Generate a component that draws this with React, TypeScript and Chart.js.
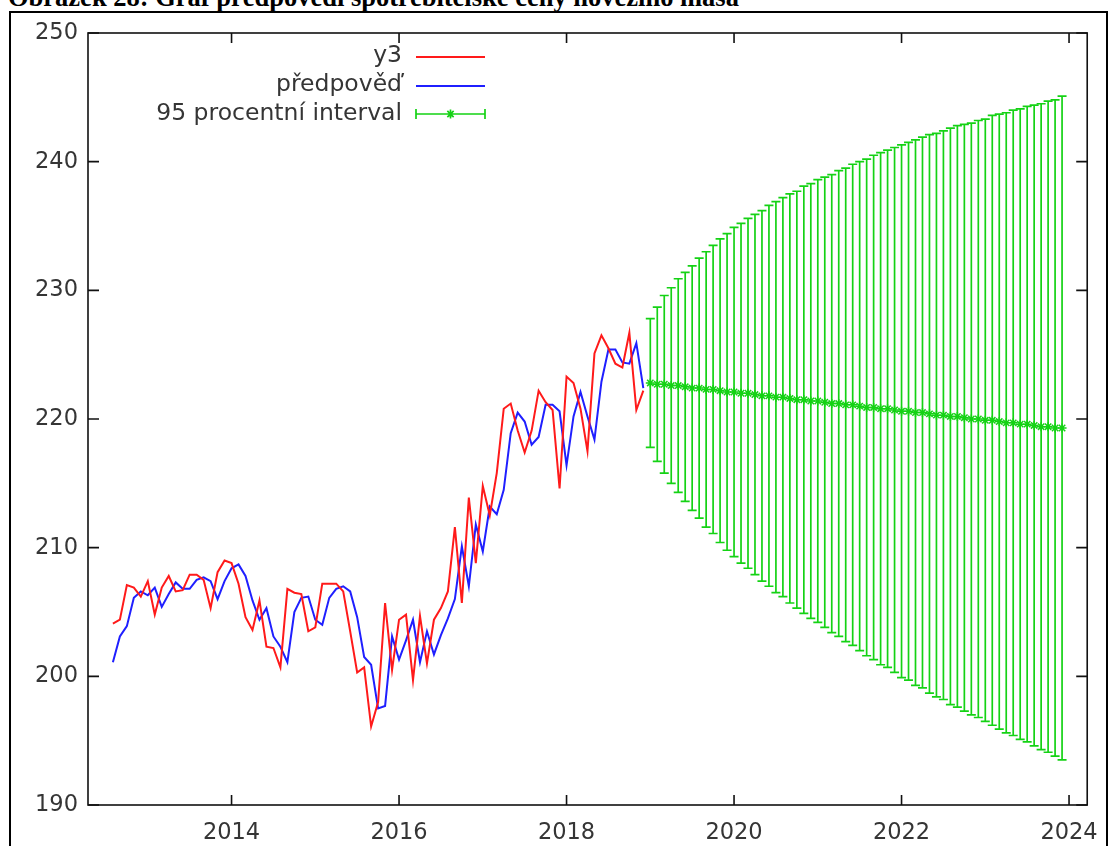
import React, { useEffect, useRef } from 'react';
import { Chart, registerables } from 'chart.js';

Chart.register(...registerables);

const TITLE = 'Obrázek 28: Graf předpovědi spotřebitelské ceny hovězího masa';
const LEGEND_LABELS = ['y3', 'předpověď', '95 procentní interval'];

// monthly observations start in August 2012, forecast starts January 2019
const START_YEAR = 2012;
const START_MONTH = 8;
const FORECAST_YEAR = 2019;
const FORECAST_MONTH = 1;

const Y3 = [
  204.1, 204.4, 207.1, 206.9, 206.2, 207.4, 204.8, 206.9, 207.8, 206.6,
  206.7, 207.9, 207.9, 207.5, 205.3, 208.1, 209.0, 208.8, 207.2, 204.6,
  203.6, 205.9, 202.3, 202.2, 200.7, 206.8, 206.5, 206.4, 203.5, 203.8,
  207.2, 207.2, 207.2, 206.6, 203.5, 200.3, 200.7, 196.1, 198.0, 205.7,
  200.5, 204.4, 204.8, 199.7, 204.7, 201.0, 204.4, 205.3, 206.6, 211.6,
  205.7, 213.9, 208.8, 214.8, 212.5, 215.8, 220.8, 221.2, 219.1, 217.4,
  219.1, 222.2, 221.3, 220.7, 214.6, 223.3, 222.8, 220.8, 217.5, 225.1,
  226.5, 225.5, 224.3, 224.0, 226.7, 220.7, 222.2,
];

const FITTED = [
  201.1, 203.1, 203.9, 206.1, 206.6, 206.3, 206.9, 205.4, 206.4, 207.3,
  206.8, 206.8, 207.5, 207.7, 207.4, 206.0, 207.4, 208.4, 208.7, 207.8,
  205.9, 204.4, 205.3, 203.1, 202.3, 201.1, 205.0, 206.1, 206.2, 204.4,
  204.0, 206.1, 206.8, 207.0, 206.6, 204.6, 201.5, 200.9, 197.5, 197.7,
  203.1, 201.3, 202.8, 204.4, 201.1, 203.5, 201.7, 203.2, 204.5, 206.0,
  210.1, 207.0, 211.8, 209.7, 213.2, 212.6, 214.5, 218.9, 220.5, 219.8,
  218.0, 218.6, 221.1, 221.1, 220.6, 216.4, 220.2, 222.1, 220.2, 218.4,
  222.9, 225.4, 225.4, 224.4, 224.3, 225.9, 222.4,
];

const FORECAST = [
  222.8, 222.7, 222.7, 222.6, 222.6, 222.5, 222.4, 222.4, 222.3, 222.3,
  222.2, 222.1, 222.1, 222.0, 222.0, 221.9, 221.8, 221.8, 221.7, 221.7,
  221.6, 221.5, 221.5, 221.4, 221.4, 221.3, 221.2, 221.2, 221.1, 221.1,
  221.0, 220.9, 220.9, 220.8, 220.8, 220.7, 220.6, 220.6, 220.5, 220.5,
  220.4, 220.3, 220.3, 220.2, 220.2, 220.1, 220.0, 220.0, 219.9, 219.9,
  219.8, 219.7, 219.7, 219.6, 219.6, 219.5, 219.4, 219.4, 219.3, 219.3,
];

// half-width of the 95 % interval
const MARGIN = [
  5.0, 6.0, 6.9, 7.6, 8.3, 8.9, 9.5, 10.1, 10.7, 11.2,
  11.8, 12.3, 12.8, 13.2, 13.6, 14.0, 14.4, 14.8, 15.2, 15.5,
  15.9, 16.2, 16.6, 16.9, 17.2, 17.5, 17.8, 18.1, 18.4, 18.7,
  19.0, 19.3, 19.6, 19.9, 20.1, 20.4, 20.7, 20.9, 21.2, 21.4,
  21.7, 21.9, 22.1, 22.4, 22.6, 22.8, 23.0, 23.2, 23.4, 23.7,
  23.9, 24.1, 24.3, 24.5, 24.7, 24.9, 25.1, 25.3, 25.5, 25.8,
];

const YEAR_TICKS = [2014, 2016, 2018, 2020, 2022, 2024];
const Y_TICKS = [190, 200, 210, 220, 230, 240, 250];
const X_MIN = 2012.286;
const X_MAX = 2024.217;

const RED = '#ff1a1a';
const BLUE = '#1f1fff';
const GREEN = '#14d214';
const TEXT = '#353535';
const FONT_FAMILY = '"DejaVu Sans", Verdana, sans-serif';
const TICK_FONT_SIZE = 22.5;
const LEGEND_FONT_SIZE = 23.5;

const monthTime = (y0: number, m0: number, i: number) => y0 + (m0 - 1 + i) / 12;

const frameAxes = {
  id: 'frameAxes',
  beforeDatasetsDraw(chart: any) {
    const { ctx, chartArea: a, scales } = chart;
    const x = scales.x;
    const y = scales.y;
    ctx.save();
    ctx.strokeStyle = '#111';
    ctx.lineWidth = 1.6;
    ctx.strokeRect(a.left, a.top, a.right - a.left, a.bottom - a.top);
    ctx.beginPath();
    for (const t of x.ticks) {
      const px = x.getPixelForValue(t.value);
      ctx.moveTo(px, a.bottom);
      ctx.lineTo(px, a.bottom - 10);
      ctx.moveTo(px, a.top);
      ctx.lineTo(px, a.top + 10);
    }
    for (const t of y.ticks) {
      const py = y.getPixelForValue(t.value);
      ctx.moveTo(a.left, py);
      ctx.lineTo(a.left + 11, py);
      ctx.moveTo(a.right, py);
      ctx.lineTo(a.right - 11, py);
    }
    ctx.stroke();
    ctx.restore();
  },
  afterDatasetsDraw(chart: any) {
    const { ctx, chartArea: a } = chart;
    const textRight = a.left + 314;
    const s0 = a.left + 328;
    const s1 = a.left + 397;
    const rows = [a.top + 23, a.top + 52, a.top + 81];
    ctx.save();
    ctx.font = `${LEGEND_FONT_SIZE}px ${FONT_FAMILY}`;
    ctx.fillStyle = TEXT;
    ctx.textAlign = 'right';
    ctx.textBaseline = 'middle';
    LEGEND_LABELS.forEach((label, i) => ctx.fillText(label, textRight, rows[i]));
    ctx.lineWidth = 2;
    ctx.strokeStyle = RED;
    ctx.beginPath();
    ctx.moveTo(s0, rows[0] + 1);
    ctx.lineTo(s1, rows[0] + 1);
    ctx.stroke();
    ctx.strokeStyle = BLUE;
    ctx.beginPath();
    ctx.moveTo(s0, rows[1] + 1);
    ctx.lineTo(s1, rows[1] + 1);
    ctx.stroke();
    ctx.strokeStyle = GREEN;
    ctx.lineWidth = 1.7;
    const gy = rows[2];
    ctx.beginPath();
    ctx.moveTo(s0, gy);
    ctx.lineTo(s1, gy);
    ctx.moveTo(s0, gy - 5);
    ctx.lineTo(s0, gy + 5);
    ctx.moveTo(s1, gy - 5);
    ctx.lineTo(s1, gy + 5);
    const cx = (s0 + s1) / 2;
    const r = 4.5;
    ctx.moveTo(cx - r, gy);
    ctx.lineTo(cx + r, gy);
    ctx.moveTo(cx, gy - r);
    ctx.lineTo(cx, gy + r);
    ctx.moveTo(cx - r * 0.7, gy - r * 0.7);
    ctx.lineTo(cx + r * 0.7, gy + r * 0.7);
    ctx.moveTo(cx - r * 0.7, gy + r * 0.7);
    ctx.lineTo(cx + r * 0.7, gy - r * 0.7);
    ctx.stroke();
    ctx.restore();
  },
};

export default function App() {
  const canvasRef = useRef<HTMLCanvasElement | null>(null);

  useEffect(() => {
    const canvas = canvasRef.current;
    if (!canvas) return;

    const y3Points = Y3.map((v, i) => ({ x: monthTime(START_YEAR, START_MONTH, i), y: v }));
    const fittedPoints = FITTED.map((v, i) => ({ x: monthTime(START_YEAR, START_MONTH, i), y: v }));
    const centre = FORECAST.map((v, i) => ({ x: monthTime(FORECAST_YEAR, FORECAST_MONTH, i), y: v }));
    const upper = FORECAST.map((v, i) => ({ x: monthTime(FORECAST_YEAR, FORECAST_MONTH, i), y: v + MARGIN[i] }));
    const lower = FORECAST.map((v, i) => ({ x: monthTime(FORECAST_YEAR, FORECAST_MONTH, i), y: v - MARGIN[i] }));
    const bars: any[] = [];
    FORECAST.forEach((v, i) => {
      const x = monthTime(FORECAST_YEAR, FORECAST_MONTH, i);
      bars.push({ x, y: v - MARGIN[i] }, { x, y: v + MARGIN[i] }, { x, y: null });
    });

    const chart = new Chart(canvas, {
      type: 'line',
      data: {
        datasets: [
          {
            label: LEGEND_LABELS[0],
            data: y3Points,
            borderColor: RED,
            borderWidth: 2,
            pointRadius: 0,
            tension: 0,
          },
          {
            label: LEGEND_LABELS[1],
            data: fittedPoints,
            borderColor: BLUE,
            borderWidth: 2,
            pointRadius: 0,
            tension: 0,
          },
          {
            label: LEGEND_LABELS[2],
            data: centre,
            showLine: false,
            pointStyle: 'star',
            pointRadius: 4.5,
            pointBorderWidth: 1.5,
            borderColor: GREEN,
            backgroundColor: GREEN,
          },
          {
            label: 'upper',
            data: upper,
            showLine: false,
            pointStyle: 'line',
            pointRadius: 4.5,
            pointBorderWidth: 1.7,
            borderColor: GREEN,
          },
          {
            label: 'lower',
            data: lower,
            showLine: false,
            pointStyle: 'line',
            pointRadius: 4.5,
            pointBorderWidth: 1.7,
            borderColor: GREEN,
          },
          {
            label: 'bars',
            data: bars,
            borderColor: GREEN,
            borderWidth: 1.7,
            pointRadius: 0,
            spanGaps: false,
          },
        ],
      },
      options: {
        animation: false,
        responsive: false,
        devicePixelRatio: 1,
        events: [],
        layout: { padding: { left: 8, top: 33, right: 18, bottom: 0 } },
        plugins: {
          legend: { display: false },
          tooltip: { enabled: false },
          title: { display: false },
        },
        scales: {
          x: {
            type: 'linear',
            min: X_MIN,
            max: X_MAX,
            grid: { display: false, drawTicks: false },
            border: { display: false },
            afterBuildTicks: (scale: any) => {
              scale.ticks = YEAR_TICKS.map((v) => ({ value: v }));
            },
            afterFit: (scale: any) => {
              scale.height = 41;
            },
            ticks: {
              autoSkip: false,
              maxRotation: 0,
              padding: 15,
              color: TEXT,
              font: { family: FONT_FAMILY, size: TICK_FONT_SIZE },
              callback: (v: any) => String(v),
            },
          },
          y: {
            type: 'linear',
            min: 190,
            max: 250,
            grid: { display: false, drawTicks: false },
            border: { display: false },
            afterBuildTicks: (scale: any) => {
              scale.ticks = Y_TICKS.map((v) => ({ value: v }));
            },
            afterFit: (scale: any) => {
              scale.width = 80;
            },
            ticks: {
              padding: 10,
              color: TEXT,
              font: { family: FONT_FAMILY, size: TICK_FONT_SIZE },
              callback: (v: any) => String(v),
            },
          },
        },
      },
      plugins: [frameAxes],
    });

    return () => chart.destroy();
  }, []);

  return (
    <div
      style={{
        position: 'fixed',
        left: 0,
        top: 0,
        width: 1113,
        height: 846,
        overflow: 'hidden',
        background: '#fff',
      }}
    >
      <div
        style={{
          position: 'absolute',
          left: 8,
          top: -18,
          whiteSpace: 'nowrap',
          fontFamily: '"Liberation Serif", "Times New Roman", serif',
          fontWeight: 'bold',
          fontSize: 26.5,
          lineHeight: '30px',
          color: '#000',
        }}
      >
        {TITLE}
      </div>
      <div
        style={{
          position: 'absolute',
          left: 9,
          top: 11,
          width: 1099,
          height: 900,
          border: '2px solid #000',
          boxSizing: 'border-box',
        }}
      />
      <canvas
        ref={canvasRef}
        width={1113}
        height={846}
        style={{ position: 'absolute', left: 0, top: 0, width: 1113, height: 846 }}
      />
    </div>
  );
}
